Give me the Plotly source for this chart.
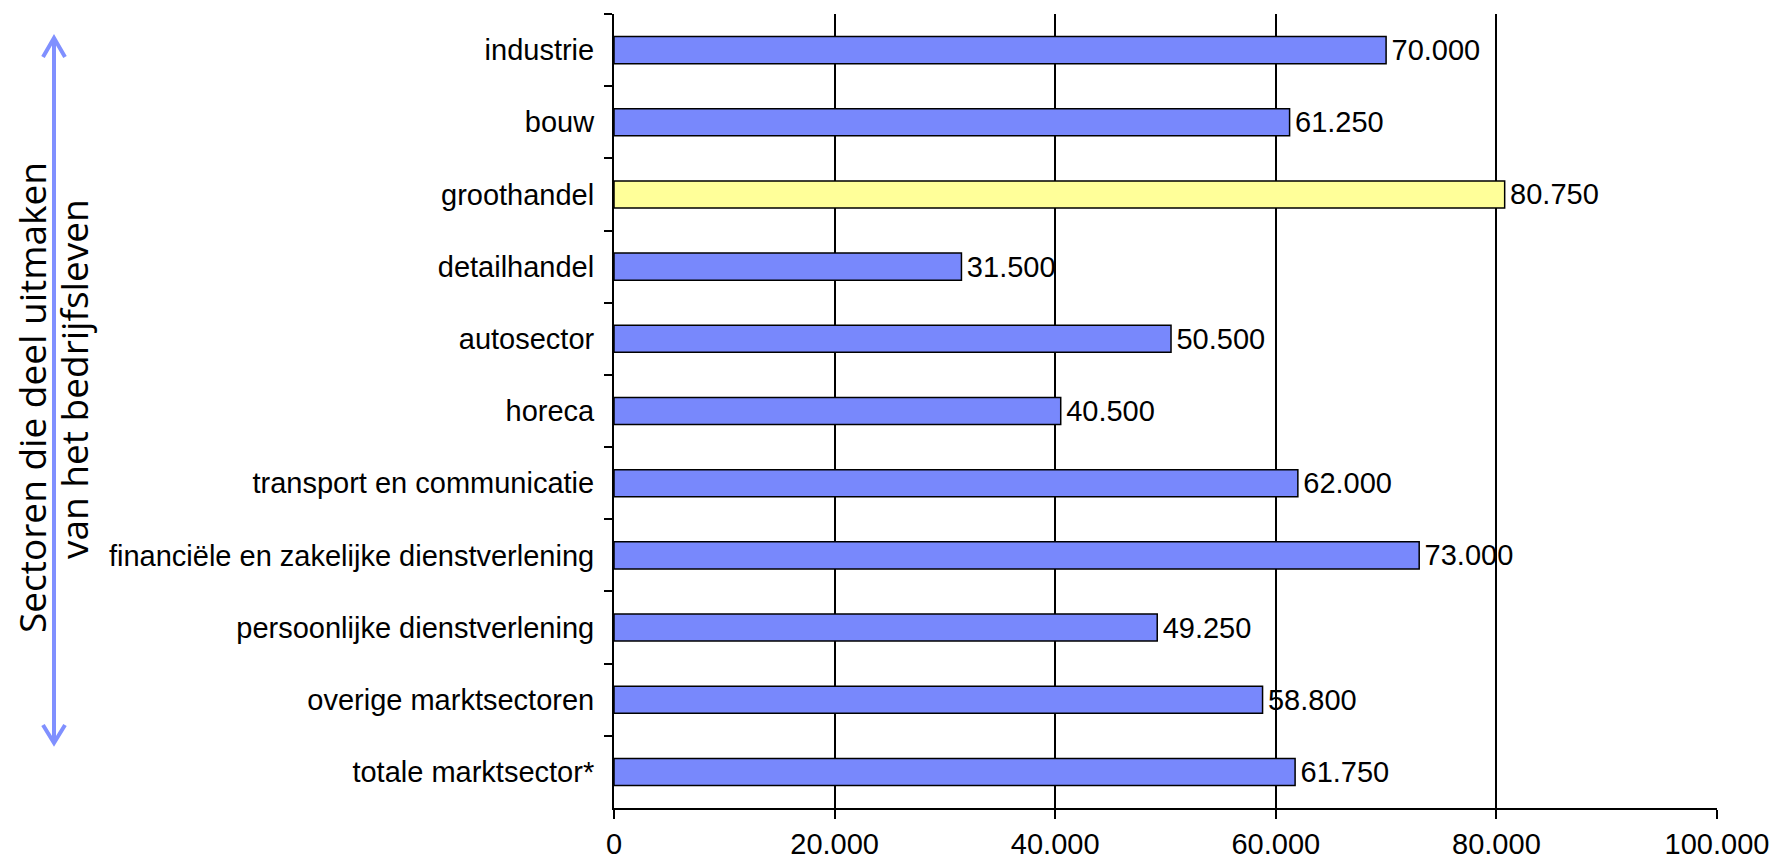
import plotly.graph_objects as go

categories = [
    "industrie",
    "bouw",
    "groothandel",
    "detailhandel",
    "autosector",
    "horeca",
    "transport en communicatie",
    "financiële en zakelijke dienstverlening",
    "persoonlijke dienstverlening",
    "overige marktsectoren",
    "totale marktsector*",
]
values = [70000, 61250, 80750, 31500, 50500, 40500, 62000, 73000, 49250, 58800, 61750]
highlight = "groothandel"
x_tick_values = [0, 20000, 40000, 60000, 80000, 100000]
title_line1 = "Sectoren die deel uitmaken"
title_line2 = "van het bedrijfsleven"

BLUE = "#7888FC"
YELLOW = "#FFFF99"
ARROW = "#8090FF"
colors = [YELLOW if c == highlight else BLUE for c in categories]

W, H = 1774, 860
L, R, T, B = 614, 1717, 14, 808
PW, PH = R - L, B - T


def px(x):
    return (x - L) / PW


def py(y):
    return (B - y) / PH


fig = go.Figure(
    go.Bar(
        x=values,
        y=categories,
        orientation="h",
        marker=dict(color=colors, line=dict(color="black", width=1.5)),
        texttemplate="\u200a%{x:,d}",
        textposition="outside",
        textfont=dict(family="Liberation Sans, Arial, sans-serif", size=29, color="black"),
        constraintext="none",
        cliponaxis=False,
        hoverinfo="skip",
    )
)

fig.update_layout(
    width=W,
    height=H,
    margin=dict(l=L, r=W - R, t=T, b=H - B, pad=0, autoexpand=False),
    paper_bgcolor="white",
    plot_bgcolor="white",
    separators=",.",
    bargap=0.625,
    showlegend=False,
    font=dict(family="Liberation Sans, Arial, sans-serif", size=29, color="black"),
)

fig.update_xaxes(
    range=[0, 100000],
    tickvals=x_tick_values,
    tickformat=",d",
    showgrid=True,
    gridcolor="black",
    gridwidth=1.5,
    showline=True,
    linecolor="black",
    linewidth=2,
    ticks="outside",
    ticklen=9,
    tickwidth=1.5,
    tickcolor="black",
    zeroline=False,
    tickfont=dict(size=29),
    ticklabelstandoff=0,
    automargin=False,
)

fig.update_yaxes(
    type="category",
    autorange="reversed",
    showgrid=False,
    showline=True,
    linecolor="black",
    linewidth=2,
    ticks="outside",
    tickson="boundaries",
    ticklen=8,
    tickwidth=1.5,
    tickcolor="black",
    tickfont=dict(size=29),
    ticklabelstandoff=12,
    automargin=False,
)

# vertical double-headed arrow on the left
ax = 54
y_top, y_bot = 38, 743
fig.add_shape(type="line", xref="paper", yref="paper",
              x0=px(ax), x1=px(ax), y0=py(y_top + 1), y1=py(y_bot - 1),
              line=dict(color=ARROW, width=4))
fig.add_shape(type="path", xref="paper", yref="paper",
              path=f"M {px(ax - 11)} {py(y_top + 19)} L {px(ax)} {py(y_top)} L {px(ax + 11)} {py(y_top + 19)}",
              line=dict(color=ARROW, width=4))
fig.add_shape(type="path", xref="paper", yref="paper",
              path=f"M {px(ax - 11)} {py(y_bot - 18)} L {px(ax)} {py(y_bot)} L {px(ax + 11)} {py(y_bot - 18)}",
              line=dict(color=ARROW, width=4))

title_font = dict(family="Open Sans, Noto Sans, sans-serif", size=37, color="black")
fig.add_annotation(text=title_line1, xref="paper", yref="paper",
                   x=px(31), y=py(398), xanchor="center", yanchor="middle",
                   textangle=-90, showarrow=False, font=title_font)
fig.add_annotation(text=title_line2, xref="paper", yref="paper",
                   x=px(74), y=py(379), xanchor="center", yanchor="middle",
                   textangle=-90, showarrow=False, font=title_font)

fig.write_html("out.html")
